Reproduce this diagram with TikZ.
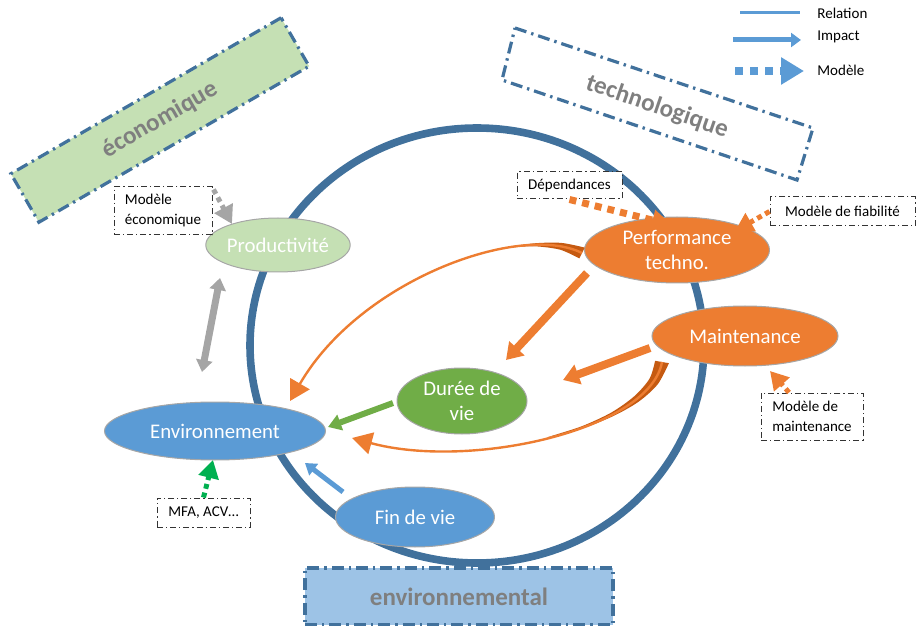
\documentclass[tikz,border=0pt]{standalone}
\usepackage{fontspec}
\setmainfont{Carlito}
\usepackage{xcolor}
\usetikzlibrary{shapes.geometric}
\usetikzlibrary{arrows.meta,calc}

\definecolor{bleucercle}{HTML}{41719C}
\definecolor{bleu}{HTML}{5B9BD5}
\definecolor{orangeoff}{HTML}{ED7D31}
\definecolor{orangefonce}{HTML}{C55A11}
\definecolor{vert}{HTML}{70AD47}
\definecolor{vertclair}{HTML}{C5E0B4}
\definecolor{bleuclair}{HTML}{9DC3E6}
\definecolor{gris}{HTML}{A5A5A5}
\definecolor{gristexte}{HTML}{7F7F7F}
\definecolor{vertvif}{HTML}{00B050}

\begin{document}
\begin{tikzpicture}[
x=0.5pt, y=-0.5pt,
etat/.style={ellipse, inner sep=0pt, draw=black!35, line width=0.5pt, text=white,
  font=\fontsize{10.4}{12.5}\selectfont, align=center},
modele/.style={rectangle, draw=black!80, line width=0.5pt, fill=white, inner sep=0pt,
  dash pattern=on 3pt off 1.5pt on 0.6pt off 1.5pt, font=\fontsize{7.5}{10}\selectfont, align=left},
categorie/.style={draw=bleucercle, line width=1.6pt, dash pattern=on 6pt off 2.5pt on 1.2pt off 2.5pt},
cattexte/.style={text=gristexte, font=\fontsize{12.5}{15}\selectfont\bfseries},
cercle/.style={draw=bleucercle, line width=3.8pt},
impact/.style={line width=4pt, -{Triangle[length=8pt,width=10pt]}},
lienmodele/.style={line width=2.5pt, dash pattern=on 2.5pt off 2pt, -{Triangle[length=9pt,width=10pt]}},
courbe/.style={orangeoff, line width=1.2pt, -{Triangle[length=10pt,width=11pt]}},
legende/.style={font=\fontsize{7.5}{9}\selectfont, anchor=west, inner sep=0pt}]
\useasboundingbox (0,0) rectangle (917,626);

\draw[cercle] (477,345.5) ellipse [x radius=227, y radius=217.5];

% categories
\node[categorie, cattexte, fill=vertclair, rotate=30, minimum width=156pt, minimum height=28pt] (econ) at (160,120) {économique};
\draw[categorie] (515,28) -- (813,128) -- (797,180) -- (502,80) -- cycle;
\node[cattexte, rotate=-19] (techno) at (657,107) {technologique};
\node[categorie, cattexte, fill=bleuclair, minimum width=154pt, minimum height=28.5pt] (envcat) at (459,596.5) {environnemental};

% etats
\node[etat, fill=vertclair, minimum width=71pt, minimum height=27pt] (prod) at (278,245) {Productivité};
\node[etat, fill=orangeoff, minimum width=92.5pt, minimum height=33pt] (perf) at (677,250) {Performance\\techno.};
\node[etat, fill=orangeoff, minimum width=93pt, minimum height=30pt] (maint) at (745,336) {Maintenance};
\node[etat, fill=vert, minimum width=65pt, minimum height=33pt] (duree) at (462,401) {Durée de\\vie};
\node[etat, fill=bleu, minimum width=110.5pt, minimum height=29pt] (env) at (215,431) {Environnement};
\node[etat, fill=bleu, minimum width=79.5pt, minimum height=30pt] (fin) at (415,517) {Fin de vie};

% modeles
\node[modele, minimum width=49pt, minimum height=24pt] (mecon) at (163,211) {Modèle\\économique};
\node[modele, minimum width=52.5pt, minimum height=13.5pt] (mdep) at (569.5,185.5) {Dépendances};
\node[modele, minimum width=72.5pt, minimum height=14.5pt] (mfiab) at (842.5,211.5) {Modèle de fiabilité};
\node[modele, minimum width=51pt, minimum height=23.5pt] (mmaint) at (812,416.5) {Modèle de\\maintenance};
\node[modele, minimum width=46.5pt, minimum height=14.5pt] (mfa) at (203.5,512.5) {MFA, ACV…};

% impacts
\draw[impact, orangeoff] ($(perf)+(-90,23)$) -- ($(duree)+(44,-41)$);
\draw[impact, orangeoff] ($(maint)+(-95,12)$) -- ($(duree)+(101,-21)$);
\draw[impact, vert, line width=3pt, -{Triangle[length=6.5pt,width=8pt]}] ($(duree)+(-69,2)$) -- ($(env)+(113,-4)$);
\draw[impact, bleu, line width=2.5pt, -{Triangle[length=5.5pt,width=7pt]}] ($(fin)+(-72,-25)$) -- ($(env)+(90,32)$);
\draw[gris, line width=3.5pt, {Triangle[length=6pt,width=8pt]}-{Triangle[length=6pt,width=8pt]}] ($(prod)+(-58,33)$) -- ($(env)+(-13,-59)$);

\fill[orangefonce] plot[smooth, tension=0.5] coordinates {(584.7,247.6) (561.3,242.9) (534.6,243.3) (508,247.4)
  (534.6,246.3) (560.1,249.7) (579.3,258.4)} -- cycle;
\draw[courbe] ($(perf)+(-95,3)$) .. controls +(-62,-31) and +(70,-121) .. ($(env)+(75,-30)$);
\fill[orangefonce] plot[smooth, tension=0.5] coordinates {(668.9,363.2) (657.7,384.3) (638.6,401.7) (613,416.2)
  (582,428.4) (546.8,437.5) (581.4,426.4) (611.2,412.6) (634.2,396.3) (649.5,378.7) (655.1,360.8)} -- cycle;
\draw[courbe] ($(maint)+(-83,26)$) .. controls +(-12,68) and +(118,32) .. ($(env)+(137,7)$);

% liens modeles
\draw[lienmodele, gris] ($(mecon.north east)+(1,3)$) -- ($(prod)+(-46,-21)$);
\draw[lienmodele, orangeoff, line width=3.5pt, dash pattern=on 3.5pt off 3pt, -{Triangle[length=10pt,width=10pt]}] (mdep.south) -- ($(perf)+(-5,-25)$);
\draw[lienmodele, orangeoff] (mfiab.west) -- ($(perf)+(58,-19)$);
\draw[lienmodele, orangeoff] ($(mmaint.north)+(-23,0)$) -- ($(maint)+(25,35)$);
\draw[lienmodele, vertvif] (mfa.north) -- ($(env)+(-2,29)$);

% legende
\coordinate (rela) at (740,13);
\coordinate (relb) at (800,13);
\draw[bleu, line width=1.5pt] (rela) -- (relb);
\node[legende] (trel) at (817,13) {Relation};
\coordinate (impa) at (733,40);
\coordinate (impb) at (801,40);
\draw[impact, bleu, line width=2.5pt, -{Triangle[length=5pt,width=7pt]}] (impa) -- (impb);
\node[legende] (timp) at (817,37) {Impact};
\coordinate (moda) at (735,71);
\coordinate (modb) at (804,71);
\draw[lienmodele, bleu, line width=4pt, dash pattern=on 4pt off 3.5pt, -{Triangle[length=11.5pt,width=13pt]}] (moda) -- (modb);
\node[legende] (tmod) at (817,70) {Modèle};
\end{tikzpicture}
\end{document}
